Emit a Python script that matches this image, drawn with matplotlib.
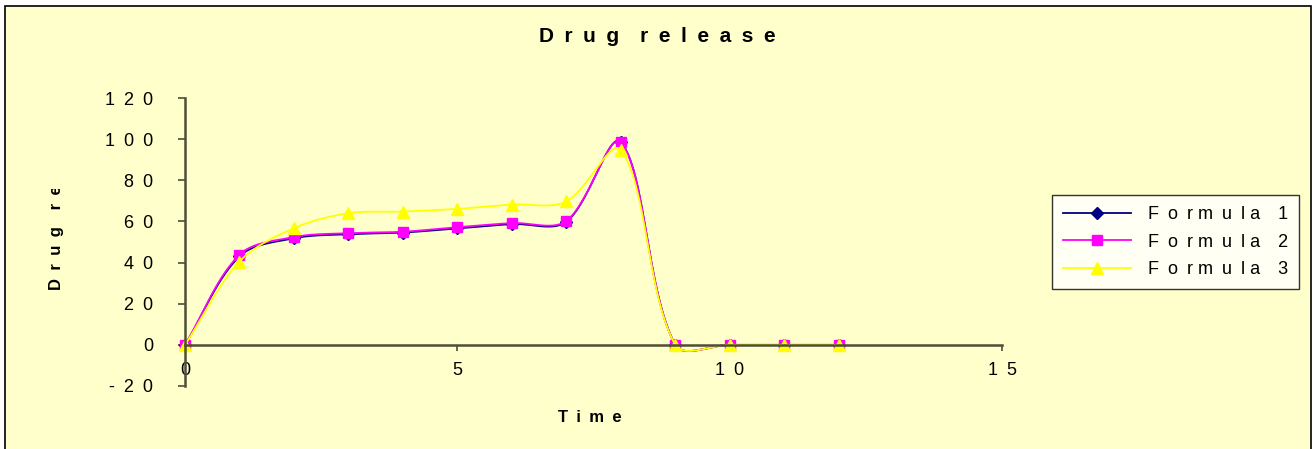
import numpy as np
import matplotlib.pyplot as plt
from matplotlib.patches import Rectangle
from matplotlib.transforms import Bbox

plt.rcParams['font.family'] = ['Liberation Sans', 'DejaVu Sans']

time = [0, 1, 2, 3, 4, 5, 6, 7, 8, 9, 10, 11, 12]
formula1 = [0, 43.0, 51.8, 53.8, 54.6, 56.6, 58.7, 59.8, 98.6, 0, 0, 0, 0]
formula2 = [0, 43.8, 52.4, 54.3, 55.0, 57.2, 59.2, 60.2, 98.4, 0, 0, 0, 0]
formula3 = [0, 40.5, 56.7, 64.0, 64.8, 66.1, 68.2, 69.7, 94.8, 0, 0, 0, 0]
E = '\u2002'  # en space, for the wide letter spacing
names = [E.join(['F', 'o', 'r m', 'u', 'l a', '', n]) for n in ['1', '2', '3']]
colors = ['#000080', '#FF00FF', '#FFFF00']
markers = ['D', 's', '^']
msizes = [6, 7.5, 9]
bg = '#FFFFCC'


def smooth(x, y, sx=54.5, sy=2.056, n=30):
    # excel-like smoothed line: bezier segments, handles scaled by segment length
    p = np.column_stack([np.asarray(x, float) * sx, np.asarray(y, float) * sy])
    out = []
    t = np.linspace(0, 1, n)[:, None]
    m = len(p)
    for i in range(m - 1):
        a = p[max(i - 1, 0)]
        b = p[i]
        c = p[i + 1]
        d = p[min(i + 2, m - 1)]
        lab = np.hypot(*(b - a))
        lbc = np.hypot(*(c - b))
        lcd = np.hypot(*(d - c))
        c1 = b + (c - a) * (lbc / (lab + lbc) if lab + lbc else 0) / 3
        c2 = c - (d - b) * (lbc / (lbc + lcd) if lbc + lcd else 0) / 3
        seg = (1 - t) ** 3 * b + 3 * (1 - t) ** 2 * t * c1 + 3 * (1 - t) * t ** 2 * c2 + t ** 3 * c
        out.append(seg)
    out = np.vstack(out)
    return out[:, 0] / sx, out[:, 1] / sy


fig = plt.figure(figsize=(13.13, 4.49), dpi=100)
fig.patch.set_facecolor('white')
fig.patches.append(Rectangle((5 / 1313, -0.01), 1306 / 1313, 1 - 6 / 449 + 0.01,
                             transform=fig.transFigure, facecolor=bg,
                             edgecolor='black', linewidth=1.2, zorder=-10))

ax = fig.add_axes([185 / 1313, 1 - 386 / 449, 817 / 1313, 288 / 449])
ax.patch.set_alpha(0)

handles = []
for yv, c, m, ms, nm in zip([formula1, formula2, formula3], colors, markers, msizes, names):
    sx, sy = smooth(time, yv)
    ax.plot(sx, sy, color=c, linewidth=1.3, clip_on=False)
    ax.plot(time, yv, linestyle='none', marker=m, color=c, markersize=ms, clip_on=False)
    h, = ax.plot([], [], color=c, marker=m, markersize=ms, linewidth=1.3, label=nm)
    handles.append(h)

ax.set_xlim(0, 15)
ax.set_ylim(-20, 120)
ax.set_xticks([0, 5, 10, 15])
ax.set_xticklabels(['0', '5', '1' + E + '0', '1' + E + '5'])
yt = [-20, 0, 20, 40, 60, 80, 100, 120]
ax.set_yticks(yt)
ax.set_yticklabels([E.join(str(v)) for v in yt])

axis_col = '#4d4d3a'
for s in ['top', 'right']:
    ax.spines[s].set_visible(False)
ax.spines['bottom'].set_position(('data', 0))
ax.spines['left'].set_position(('data', 0))
for s in ['bottom', 'left']:
    ax.spines[s].set_color(axis_col)
    ax.spines[s].set_linewidth(1.8)
ax.tick_params(axis='y', direction='out', length=5, width=1.2, color=axis_col,
               labelsize=13, pad=18)
ax.tick_params(axis='x', direction='out', length=4.5, width=1.2, color=axis_col,
               labelsize=13, pad=8)

fig.text(657 / 1313, 1 - 37 / 449, E.join('Drug') + E * 2 + E.join('release'),
         ha='center', va='center', fontsize=15, fontweight='bold')
fig.text(590 / 1313, 1 - 417 / 449, E.join('Time'), ha='center', va='center',
         fontsize=12, fontweight='bold')
# the axis title is cut off in the original chart
ylab = fig.text(57 / 1313, 1 - 290 / 449, E.join('Drug') + E * 2 + E.join('release'),
                rotation=90, ha='center', va='bottom', fontsize=12, fontweight='bold')
ylab.set_clip_box(Bbox.from_extents(0, 0, 200, 449 - 189))
ylab.set_clip_on(True)

leg = fig.legend(handles=handles, loc='upper left',
                 bbox_to_anchor=(1052 / 1313, 1 - 195 / 449),
                 frameon=True, fancybox=False, fontsize=13, handlelength=3.8,
                 handletextpad=0.9, borderpad=0.6, labelspacing=0.6,
                 borderaxespad=0)
leg.get_frame().set_edgecolor('black')
leg.get_frame().set_facecolor('white')
leg.get_frame().set_linewidth(1.0)

fig.savefig('out.png', dpi=100, facecolor=fig.get_facecolor())
